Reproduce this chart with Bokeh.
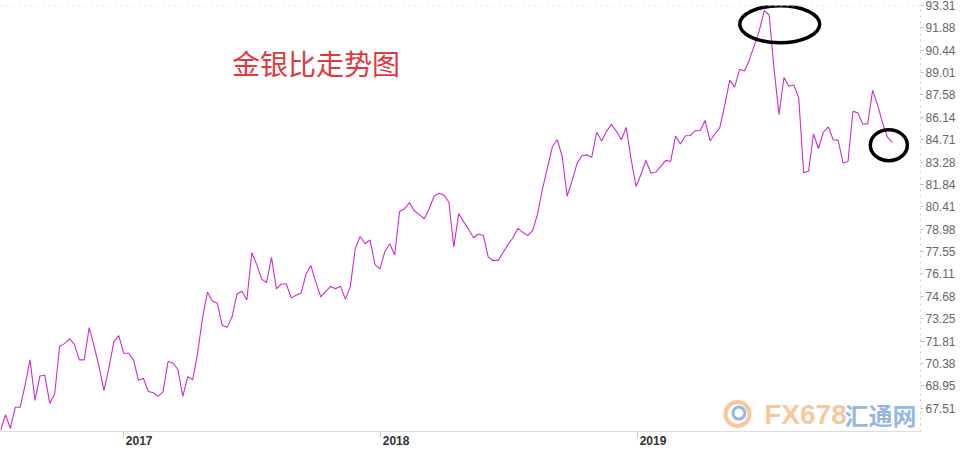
import pandas as pd
from bokeh.plotting import figure
from bokeh.models import Range1d, FixedTicker, Label, Span, ColumnDataSource
from bokeh.embed import file_html
from bokeh.resources import INLINE

# ---- data ----
start_date = "2016-07-10"
ratio = [
    66.08, 67.09, 66.23, 67.57, 67.57, 69.00, 70.61, 68.01, 69.58, 69.62,
    67.82, 68.44, 71.48, 71.65, 71.96, 71.60, 70.61, 70.61, 72.68, 71.48,
    70.20, 68.64, 70.10, 71.75, 72.16, 71.03, 71.03, 70.61, 69.31, 69.43,
    68.58, 68.50, 68.27, 68.58, 70.51, 70.41, 69.99, 68.27, 69.54, 69.33,
    71.03, 73.30, 74.95, 74.38, 74.23, 72.82, 72.69, 73.37, 74.83, 75.00,
    74.44, 77.48, 76.71, 75.78, 75.57, 77.17, 75.16, 75.47, 75.47, 74.58,
    74.75, 74.89, 76.09, 76.65, 75.57, 74.64, 75.00, 75.31, 75.16, 75.32,
    74.50, 75.32, 77.74, 78.51, 78.05, 78.30, 76.71, 76.44, 77.54, 78.05,
    77.33, 80.12, 80.29, 80.68, 80.16, 79.91, 79.65, 80.29, 81.09, 81.28,
    81.15, 80.72, 77.85, 79.99, 79.45, 78.98, 78.43, 78.67, 78.57, 77.18,
    76.98, 76.98, 77.49, 77.99, 78.43, 79.03, 78.78, 78.57, 78.88, 79.96,
    81.57, 82.91, 84.26, 84.71, 83.63, 81.09, 82.08, 83.18, 83.68, 83.74,
    83.59, 85.19, 84.63, 85.25, 85.70, 85.25, 84.71, 85.50, 83.43, 81.71,
    82.50, 83.39, 82.56, 82.64, 83.01, 83.39, 83.32, 84.94, 84.44, 84.97,
    84.98, 85.29, 85.29, 85.95, 84.63, 85.08, 85.50, 86.94, 88.53, 88.08,
    89.22, 89.11, 89.84, 90.77, 91.70, 92.98, 92.70, 89.22, 86.32, 88.70,
    88.14, 88.22, 87.40, 82.60, 82.70, 85.08, 84.15, 85.19, 85.54, 84.71,
    84.67, 83.22, 83.32, 86.53, 86.43, 85.70, 85.74, 87.87, 86.94, 85.81,
    84.88, 84.52,
]
dates = pd.date_range(start_date, periods=len(ratio), freq="7D")

y_ticks = [67.51, 68.95, 70.38, 71.81, 73.25, 74.68, 76.11, 77.55, 78.98, 80.41,
           81.84, 83.28, 84.71, 86.14, 87.58, 89.01, 90.44, 91.88, 93.31]
y_tick_labels = ["67.51", "68.95", "70.38", "71.81", "73.25", "74.68", "76.11", "77.55",
                 "78.98", "80.41", "81.84", "83.28", "84.71", "86.14", "87.58", "89.01",
                 "90.44", "91.88", "93.31"]
year_labels = ["2017", "2018", "2019"]
year_dates = ["2017-01-01", "2018-01-01", "2019-01-01"]
title_text = "金银比走势图"


def ms(d):
    return pd.Timestamp(d).value / 1e6


DAY = 86400000.0
x_start = ms(start_date)
x_end = ms("2020-02-07")
y_lo, y_hi = 66.02, 93.31

p = figure(width=958, height=447, x_axis_type="datetime",
           x_range=Range1d(x_start, x_end), y_range=Range1d(y_lo, y_hi),
           y_axis_location="right", output_backend="svg", toolbar_location=None,
           min_border_left=0, min_border_top=5, min_border_bottom=0, min_border_right=0)
p.outline_line_color = None
p.xgrid.visible = False
p.ygrid.visible = False
p.background_fill_color = "white"

# y axis (right)
ya = p.yaxis[0]
ya.ticker = FixedTicker(ticks=y_ticks)
ya.major_label_overrides = {t: l for t, l in zip(y_ticks, y_tick_labels)}
ya.axis_line_color = "#cfcfcf"
ya.axis_line_dash = "dotted"
ya.major_tick_line_color = "#bbbbbb"
ya.major_tick_out = 3
ya.major_tick_in = 0
ya.minor_tick_line_color = None
ya.major_label_standoff = 2
ya.major_label_text_font = "Liberation Sans"
ya.major_label_text_font_size = "12px"
ya.major_label_text_color = "#666666"

# x axis (bottom): tick marks on Jan 1 (minor), labels just right of them (major)
year_ms = [ms(d) for d in year_dates]
label_pos = [t + 22 * DAY for t in year_ms]
xa = p.xaxis[0]
xa.ticker = FixedTicker(ticks=label_pos, minor_ticks=year_ms)
xa.major_label_overrides = {t: l for t, l in zip(label_pos, year_labels)}
xa.axis_line_color = "#dddddd"
xa.major_tick_line_color = None
xa.major_tick_out = 0
xa.major_tick_in = 0
xa.minor_tick_line_color = "#c8c8c8"
xa.minor_tick_out = 6
xa.minor_tick_in = 0
xa.major_label_standoff = -2
xa.major_label_text_font = "Liberation Sans"
xa.major_label_text_font_size = "12px"
xa.major_label_text_font_style = "bold"
xa.major_label_text_color = "#333333"

# top dotted line
p.add_layout(Span(location=y_hi - 0.02, dimension="width", line_color="#d5d5d5",
                  line_dash="dotted", line_width=1))

# the ratio line
src = ColumnDataSource(dict(x=dates, y=ratio))
p.line("x", "y", source=src, line_color="#c82fcc", line_width=1.1)

# title
p.add_layout(Label(x=ms("2017-06-04"), y=89.62, text=title_text, text_align="left",
                   text_baseline="middle", text_font="Noto Sans CJK SC",
                   text_font_size="28px", text_color="#e0383e"))

# annotation ellipses
p.ellipse(x=[pd.Timestamp("2019-07-22")], y=[92.11], width=80, height=37,
          width_units="screen", height_units="screen",
          fill_color=None, line_color="black", line_width=3.5)
p.ellipse(x=[pd.Timestamp("2019-12-24")], y=[84.36], width=37, height=31,
          width_units="screen", height_units="screen",
          fill_color=None, line_color="black", line_width=3.5)

# watermark
p.circle(x=[pd.Timestamp("2019-05-23")], y=[67.14], radius=12, radius_units="screen",
         fill_color=None, line_color="#f3a35a", line_width=4, line_alpha=0.6)
p.circle(x=[pd.Timestamp("2019-05-25")], y=[67.20], radius=6, radius_units="screen",
         fill_color=None, line_color="#4f86cc", line_width=3, line_alpha=0.6)
p.add_layout(Label(x=ms("2019-06-30"), y=67.10, text="FX678", text_align="left",
                   text_baseline="middle", text_font="Liberation Sans",
                   text_font_size="28px", text_font_style="bold",
                   text_color="#f3a35a", text_alpha=0.6))
p.add_layout(Label(x=ms("2019-10-22"), y=67.10, text="汇通网", text_align="left",
                   text_baseline="middle", text_font="Noto Sans CJK SC",
                   text_font_size="24px", text_font_style="bold",
                   text_color="#4f86cc", text_alpha=0.6))

open("out.html", "w").write(file_html(p, INLINE))
